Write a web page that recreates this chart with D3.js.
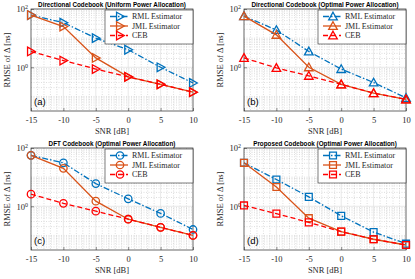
<!DOCTYPE html>
<html>
<head>
<meta charset="utf-8">
<script src="https://cdn.jsdelivr.net/npm/d3@7"></script>
<style>
  body { margin: 0; background: #fff; }
  svg { display: block; }
</style>
</head>
<body>
<div id="chart"></div>
<script>
// data (RMSE in ns, log scale)
const snr = [-15, -10, -5, 0, 5, 10];
const xTicks = [-15, -10, -5, 0, 5, 10];
const yTicks = [1, 100];

const titles = [
  "Directional Codebook (Uniform Power Allocation)",
  "Directional Codebook (Optimal Power Allocation)",
  "DFT Codebook (Optimal Power Allocation)",
  "Proposed Codebook (Optimal Power Allocation)"
];
const tags = ["(a)", "(b)", "(c)", "(d)"];
const markers = ["tri-right", "tri-up", "circle", "square"];
const seriesNames = ["RML Estimator", "JML Estimator", "CEB"];

const rmlA = [62, 34, 10, 4.0, 1.0, 0.29];
const jmlA = [62, 25, 2.1, 0.47, 0.26, 0.14];
const cebA = [3.5, 1.7, 0.87, 0.47, 0.26, 0.14];

const rmlB = [57, 19, 3.5, 0.87, 0.30, 0.089];
const jmlB = [57, 13, 1.0, 0.26, 0.13, 0.079];
const cebB = [2.1, 0.95, 0.51, 0.26, 0.13, 0.079];

const rmlC = [56, 31, 6.0, 1.8, 0.57, 0.16];
const jmlC = [56, 20, 1.5, 0.36, 0.19, 0.10];
const cebC = [2.6, 1.26, 0.68, 0.36, 0.19, 0.10];

const rmlD = [31, 8.3, 2.1, 0.47, 0.13, 0.052];
const jmlD = [31, 4.6, 0.39, 0.135, 0.074, 0.047];
const cebD = [1.07, 0.56, 0.28, 0.135, 0.074, 0.047];

const panelData = [
  [rmlA, jmlA, cebA],
  [rmlB, jmlB, cebB],
  [rmlC, jmlC, cebC],
  [rmlD, jmlD, cebD]
];

const colors = ["#0072BD", "#D95319", "#FF0000"];
const dashes = ["6,2,1.5,2", null, "5,3"];

const W = 415, H = 279;
const serif = "'Liberation Serif', 'DejaVu Serif', serif";
const sans = "'Liberation Sans', Arial, sans-serif";

const svg = d3.select("#chart").append("svg")
  .attr("width", W).attr("height", H);

// plot boxes
const boxes = [
  {x: 31, y: 9, w: 162, h: 102},
  {x: 244, y: 9, w: 162, h: 102},
  {x: 31, y: 148, w: 162, h: 102},
  {x: 244, y: 148, w: 162, h: 102}
];

function markerPath(type, r) {
  if (type === "tri-right") return `M${-r * 0.8},${-r}L${r},0L${-r * 0.8},${r}Z`;
  if (type === "tri-up") return `M0,${-r}L${r},${r * 0.8}L${-r},${r * 0.8}Z`;
  if (type === "square") return `M${-r * 0.8},${-r * 0.8}H${r * 0.8}V${r * 0.8}H${-r * 0.8}Z`;
  return d3.symbol(d3.symbolCircle, Math.PI * r * r * 0.75)();
}

boxes.forEach((b, p) => {
  const g = svg.append("g").attr("transform", `translate(${b.x},${b.y})`);
  const x = d3.scaleLinear().domain([-15, 10]).range([0, b.w]);
  const y = d3.scaleLog().domain([Math.pow(10, -1.5), 100]).range([b.h, 0]);

  // minor grid
  const minorX = d3.range(-14, 10).filter(v => v % 5 !== 0);
  g.selectAll(".mgx").data(minorX).enter().append("line")
    .attr("x1", d => x(d)).attr("x2", d => x(d))
    .attr("y1", 0).attr("y2", b.h)
    .attr("stroke", "#c8c8c8").attr("stroke-width", 0.6)
    .attr("stroke-dasharray", "1,1.5");
  const minorY = [];
  [-2, -1, 0, 1].forEach(e => {
    for (let k = 1; k < 10; k++) {
      const v = k * Math.pow(10, e);
      if (v > Math.pow(10, -1.5) && v < 100 && v !== 1) minorY.push(v);
    }
  });
  g.selectAll(".mgy").data(minorY).enter().append("line")
    .attr("x1", 0).attr("x2", b.w)
    .attr("y1", d => y(d)).attr("y2", d => y(d))
    .attr("stroke", "#c8c8c8").attr("stroke-width", 0.6)
    .attr("stroke-dasharray", "1,1.5");
  // major grid
  g.selectAll(".gx").data(xTicks.slice(1, -1)).enter().append("line")
    .attr("x1", d => x(d)).attr("x2", d => x(d))
    .attr("y1", 0).attr("y2", b.h)
    .attr("stroke", "#e2e2e2").attr("stroke-width", 0.8);
  g.append("line").attr("x1", 0).attr("x2", b.w)
    .attr("y1", y(1)).attr("y2", y(1))
    .attr("stroke", "#e2e2e2").attr("stroke-width", 0.8);

  // axes
  const xAxis = d3.axisBottom(x).tickValues(xTicks).tickSize(-3).tickPadding(6)
    .tickFormat(d => d);
  const gx = g.append("g").attr("transform", `translate(0,${b.h})`).call(xAxis);
  gx.select(".domain").remove();
  gx.selectAll("line").attr("stroke", "#262626").attr("stroke-width", 0.5);
  gx.selectAll("text").attr("font-family", serif).attr("font-size", 8.5)
    .attr("fill", "#262626");

  const yAxis = d3.axisLeft(y).tickValues(yTicks).tickSize(-3).tickPadding(3)
    .tickFormat(() => "");
  const gy = g.append("g").call(yAxis);
  gy.select(".domain").remove();
  gy.selectAll("line").attr("stroke", "#262626").attr("stroke-width", 0.5);
  gy.selectAll(".tick text").each(function(d) {
    const t = d3.select(this).text("")
      .attr("font-family", serif).attr("font-size", 8.5).attr("fill", "#262626")
      .attr("dy", "0.35em");
    t.append("tspan").text("10");
    t.append("tspan").attr("font-size", 6).attr("dy", "-0.5em")
      .text(Math.round(Math.log10(d)));
  });

  // frame
  g.append("rect").attr("width", b.w).attr("height", b.h)
    .attr("fill", "none").attr("stroke", "#262626").attr("stroke-width", 0.7);

  // axis labels
  g.append("text").attr("x", b.w / 2).attr("y", b.h + 23)
    .attr("text-anchor", "middle").attr("font-family", serif).attr("font-size", 8.5)
    .attr("fill", "#262626").text("SNR [dB]");
  g.append("text").attr("transform", `translate(-21,${b.h / 2}) rotate(-90)`)
    .attr("text-anchor", "middle").attr("font-family", serif).attr("font-size", 8.5)
    .attr("fill", "#262626").text("RMSE of Δ [ns]");

  // title
  g.append("text").attr("x", b.w / 2).attr("y", -2.5)
    .attr("text-anchor", "middle").attr("font-family", sans).attr("font-weight", "bold")
    .attr("font-size", 6.3).attr("fill", "#000").text(titles[p]);

  // series
  const line = d3.line().x((d, i) => x(snr[i])).y(d => y(d));
  panelData[p].forEach((vals, s) => {
    g.append("path").datum(vals)
      .attr("d", line).attr("fill", "none")
      .attr("stroke", colors[s]).attr("stroke-width", 1.3)
      .attr("stroke-dasharray", dashes[s]);
    g.selectAll(".m" + s).data(vals).enter().append("path")
      .attr("transform", (d, i) => `translate(${x(snr[i])},${y(d)})`)
      .attr("d", markerPath(markers[p], 4.3))
      .attr("fill", "none").attr("stroke", colors[s]).attr("stroke-width", 1.3);
  });

  // panel tag
  g.append("text").attr("x", 3).attr("y", b.h - 6)
    .attr("font-family", sans).attr("font-size", 9.5).attr("fill", "#000")
    .text(tags[p]);

  // legend
  const lg = g.append("g").attr("transform", `translate(${b.w - 88},1)`);
  lg.append("rect").attr("width", 88).attr("height", 34)
    .attr("fill", "#fff").attr("stroke", "#262626").attr("stroke-width", 0.6);
  seriesNames.forEach((name, s) => {
    const ry = 6.5 + s * 9.5;
    lg.append("line").attr("x1", 5).attr("x2", 23).attr("y1", ry).attr("y2", ry)
      .attr("stroke", colors[s]).attr("stroke-width", 1.3)
      .attr("stroke-dasharray", dashes[s]);
    lg.append("path").attr("transform", `translate(15,${ry})`)
      .attr("d", markerPath(markers[p], 4.3))
      .attr("fill", "none").attr("stroke", colors[s]).attr("stroke-width", 1.3);
    lg.append("text").attr("x", 27).attr("y", ry).attr("dy", "0.35em")
      .attr("font-family", serif).attr("font-size", 8).attr("fill", "#262626")
      .text(name);
  });
});
</script>
</body>
</html>
